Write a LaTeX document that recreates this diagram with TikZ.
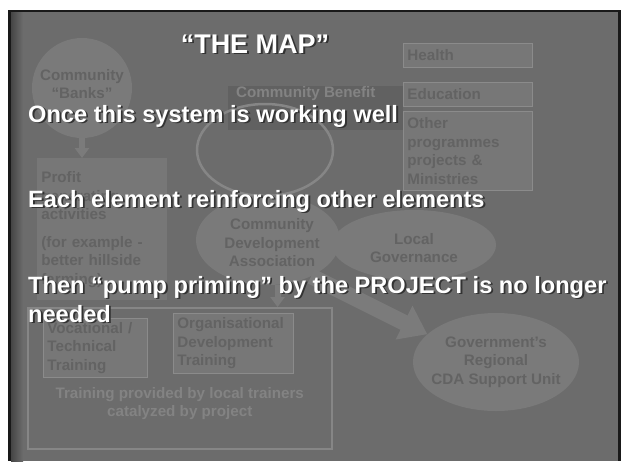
\documentclass[tikz,border=0pt]{standalone}
\usepackage{fontspec}
\setmainfont{Liberation Sans}
\usetikzlibrary{shapes.geometric,arrows.meta}
\definecolor{bg}{HTML}{6C6C6C}
\definecolor{strip}{HTML}{454545}
\definecolor{elfill}{HTML}{777777}
\definecolor{ellfill}{HTML}{7A7A7A}
\definecolor{eltext}{HTML}{636363}
\definecolor{darkbox}{HTML}{616161}
\definecolor{lighttext}{HTML}{838383}
\definecolor{ring}{HTML}{868686}
\definecolor{arrowc}{HTML}{7B7B7B}
\tikzset{
  dfont/.style={font=\bfseries\fontsize{15.2}{18.5}\selectfont},
  elbox/.style={dfont, fill=elfill, draw=elfill!85!white, line width=0.8pt, text=eltext, align=left, anchor=north west, inner xsep=4pt, inner ysep=4pt},
  elell/.style={dfont, ellipse, fill=ellfill, inner sep=0pt},
  eltxt/.style={dfont, text=eltext, align=center},
  bigarr/.style={draw=arrowc, line width=16pt, -{Triangle[width=36pt,length=26pt]}},
  smarr/.style={draw=arrowc, line width=6pt, -{Triangle[width=14pt,length=10pt]}},
  over/.style={font=\bfseries\fontsize{23.6}{28}\selectfont, text=white, anchor=base west, inner sep=0pt},
  overs/.style={font=\bfseries\fontsize{23.6}{28}\selectfont, text=black!80, anchor=base west, inner sep=0pt},
  ttl/.style={font=\bfseries\fontsize{27}{32}\selectfont, text=white, anchor=base, inner sep=0pt},
  ttls/.style={font=\bfseries\fontsize{27}{32}\selectfont, text=black!80, anchor=base, inner sep=0pt}
}
\begin{document}
\begin{tikzpicture}[x=1pt,y=-1pt]
\useasboundingbox (0,0) rectangle (623,461);
\fill[white] (0,0) rectangle (623,461);
\fill[black!90] (8,10) rectangle (621,461);
\fill[bg] (11,12) rectangle (618,461);
\shade[left color=strip, right color=bg] (11,12) rectangle (23,461);

% community benefit box
\node[fill=darkbox, minimum width=175pt, minimum height=44pt, anchor=north west, inner sep=0pt,
  label={[dfont, text=lighttext, anchor=north west, inner sep=0pt]north west:\hspace{8pt}\raisebox{-4pt}{Community Benefit}}]
  (benefit) at (228,86) {};
% ring
\node[ellipse, draw=ring, line width=2.5pt, minimum width=136pt, minimum height=92pt, inner sep=0pt] (ring) at (265,150) {};

% right column
\node[elbox, minimum width=129pt, minimum height=24pt, text width=121pt] (health) at (403,43) {Health};
\node[elbox, minimum width=129pt, minimum height=24pt, text width=121pt] (edu) at (403,82) {Education};
\node[elbox, minimum width=129pt, minimum height=79pt, text width=121pt] (other) at (403,111) {Other\\programmes\\projects \&\\Ministries};

% community banks
\node[elell, minimum width=100pt, minimum height=100pt,
  label={[eltxt, yshift=4pt]center:Community\\“Banks”}] (banks) at (82,88) {};

% profit box
\node[elbox, draw=none, minimum width=130pt, minimum height=142pt, text width=122pt] (profit) at (37,158)
  {Profit\\generating\\activities\\[9pt](for example -\\better hillside\\farming)};
\draw[smarr] (banks.south) -- (profit.north -| banks.south);

% training outer box
\node[draw=ring, line width=1.5pt, minimum width=304pt, minimum height=141pt, anchor=north west, inner sep=0pt,
  label={[dfont, text=lighttext, align=center, anchor=south, yshift=26pt]south:Training provided by local trainers\\catalyzed by project}]
  (train) at (27,307) {};
\node[elbox, minimum width=104pt, minimum height=59pt, text width=96pt] (voc) at (43,318) {Vocational /\\Technical\\Training};
\node[elbox, minimum width=117pt, minimum height=60pt, text width=112pt] (org) at (173,313) {Organisational\\Development\\Training};

% ellipses
\node[elell, minimum width=144pt, minimum height=90pt,
  label={[eltxt, xshift=4pt, yshift=-3pt]center:Community\\Development\\Association}] (cda) at (268,240) {};
\node[elell, minimum width=164pt, minimum height=70pt,
  label={[eltxt, yshift=-3pt]center:Local\\Governance}] (lg) at (414,245) {};
\node[elell, minimum width=166pt, minimum height=98pt,
  label={[eltxt]center:Government's\\Regional\\CDA Support Unit}] (gov) at (496,362) {};

\draw[bigarr] (cda.-40) -- (gov.158);
\draw[smarr] (cda.-78) -- (cda.-78 |- train.north);

% overlay text
\node[ttls] (titles) at (256.8,54.8) {“THE MAP”};
\node[ttl] (title) at (255,53) {“THE MAP”};
\node[overs] (l1s) at (29.8,123.8) {Once this system is working well};
\node[over] (l1) at (28,122) {Once this system is working well};
\node[overs] (l2s) at (29.8,208.8) {Each element reinforcing other elements};
\node[over] (l2) at (28,207) {Each element reinforcing other elements};
\node[overs] (l3s) at (29.8,294.8) {Then “pump priming” by the PROJECT is no longer};
\node[over] (l3) at (28,293) {Then “pump priming” by the PROJECT is no longer};
\node[overs] (l4s) at (29.8,323.8) {needed};
\node[over] (l4) at (28,322) {needed};
\end{tikzpicture}
\end{document}
